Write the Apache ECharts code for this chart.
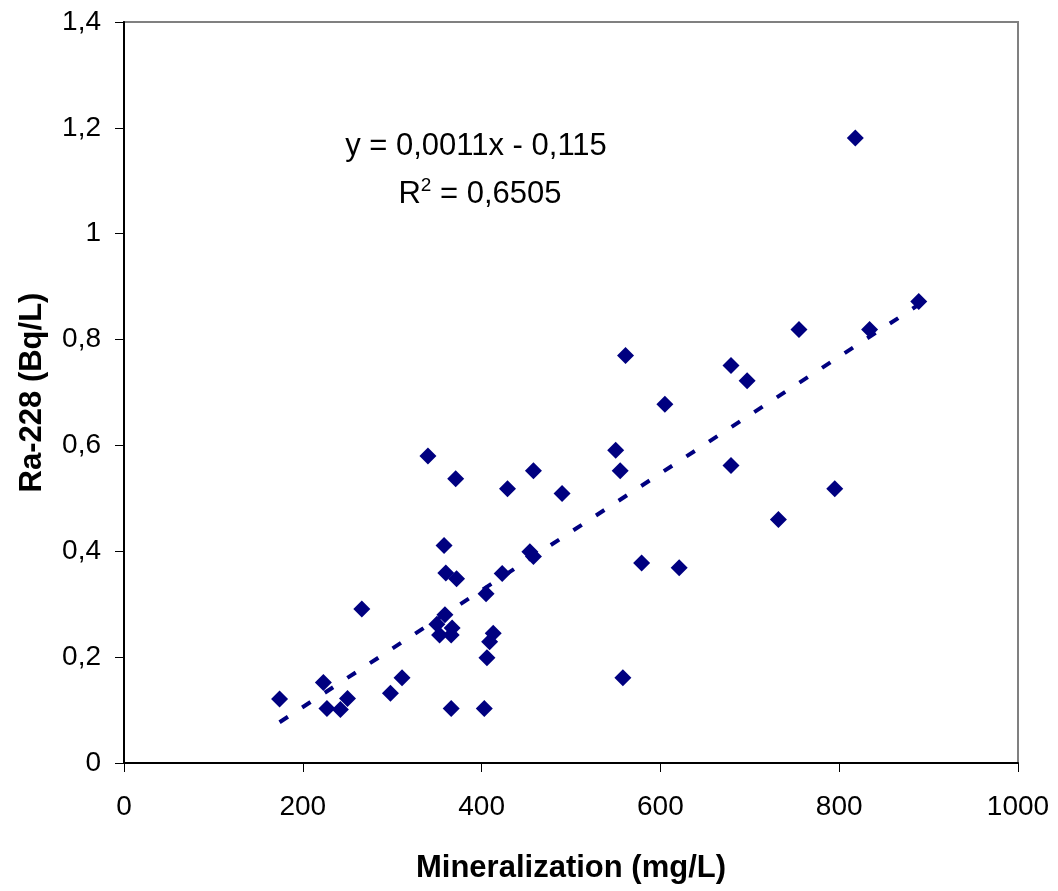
<!DOCTYPE html>
<html><head><meta charset="utf-8">
<script src="https://cdn.jsdelivr.net/npm/echarts@6/dist/echarts.min.js"></script>
<style>html,body{margin:0;padding:0;background:#fff}#c{width:1058px;height:891px}</style>
</head><body><div id="c"></div>
<script>
const mineralization = [340,371,429,458,358,360,372,423,405,454,458,266,350,353,359,366,367,413,409,406,223,311,298,250,174,227,242,366,403,
  889,834,755,561,679,697,605,550,555,490,679,795,732,579,621,558,818];
const ra228 = [0.58,0.537,0.518,0.552,0.411,0.359,0.348,0.358,0.32,0.399,0.39,0.291,0.262,0.242,0.28,0.242,0.255,0.245,0.229,0.199,0.152,0.161,0.132,0.122,0.121,0.103,0.101,0.103,0.103,
  0.872,0.819,0.819,0.770,0.751,0.722,0.678,0.591,0.552,0.509,0.562,0.518,0.460,0.378,0.369,0.161,1.181];
const trendX = [174, 889];
const trendY = [0.077, 0.866];
const yTickLabels = {0:'0',0.2:'0,2',0.4:'0,4',0.6:'0,6',0.8:'0,8',1:'1',1.2:'1,2',1.4:'1,4'};
const xTickLabels = {0:'0',200:'200',400:'400',600:'600',800:'800',1000:'1000'};
const equationText = 'y = 0,0011x - 0,115';

const FONT = '"Liberation Sans",Arial,sans-serif';
const chart = echarts.init(document.getElementById('c'), null, {renderer:'canvas'});
chart.setOption({
  animation:false,
  backgroundColor:'#fff',
  grid:{left:124,right:40,top:22,bottom:128,show:true,borderColor:'#808080',borderWidth:2,backgroundColor:'transparent'},
  xAxis:{type:'value',min:0,max:1000,interval:200,
    axisLine:{show:true,onZero:false,lineStyle:{color:'#000',width:2}},
    axisTick:{show:true,inside:false,length:9,lineStyle:{color:'#000',width:1}},
    axisLabel:{fontFamily:FONT,fontSize:28,color:'#000',margin:30,formatter:v=>xTickLabels[v]!==undefined?xTickLabels[v]:String(v)},
    splitLine:{show:false},
    name:'Mineralization (mg/L)',nameLocation:'middle',nameGap:90,
    nameTextStyle:{fontFamily:FONT,fontSize:31,fontWeight:'bold',color:'#000'}},
  yAxis:{type:'value',min:0,max:1.4,interval:0.2,
    axisLine:{show:true,onZero:false,lineStyle:{color:'#000',width:2}},
    axisTick:{show:true,inside:false,length:9,lineStyle:{color:'#000',width:1}},
    axisLabel:{fontFamily:FONT,fontSize:28,color:'#000',margin:23,
      formatter:v=>{const k=Math.round(v*10)/10;return yTickLabels[k]!==undefined?yTickLabels[k]:String(k).replace('.',',');}},
    splitLine:{show:false},
    name:'Ra-228 (Bq/L)',nameLocation:'middle',nameGap:76,nameRotate:90,
    nameTextStyle:{fontFamily:FONT,fontSize:31,fontWeight:'bold',color:'#000'}},
  series:[
    {type:'line',data:trendX.map((x,i)=>[x,trendY[i]]),symbol:'none',silent:true,z:1,
      lineStyle:{color:'#000080',width:4,type:[10,17]}},
    {type:'scatter',data:mineralization.map((x,i)=>[x,ra228[i]]),symbol:'diamond',symbolSize:[17,17],z:2,
      itemStyle:{color:'#000080',opacity:1}}
  ],
  graphic:[
    {type:'text',x:476,y:146,style:{text:equationText,font:'31px '+FONT,fill:'#000',align:'center',verticalAlign:'middle'}},
    {type:'text',x:480,y:193,style:{text:'{a|R}{s|2}{a| = 0,6505}',align:'center',verticalAlign:'middle',
      rich:{a:{font:'31px '+FONT,fill:'#000',verticalAlign:'bottom'},s:{font:'19px '+FONT,fill:'#000',verticalAlign:'top',padding:[0,0,14,0]}}}}
  ]
});
</script></body></html>
